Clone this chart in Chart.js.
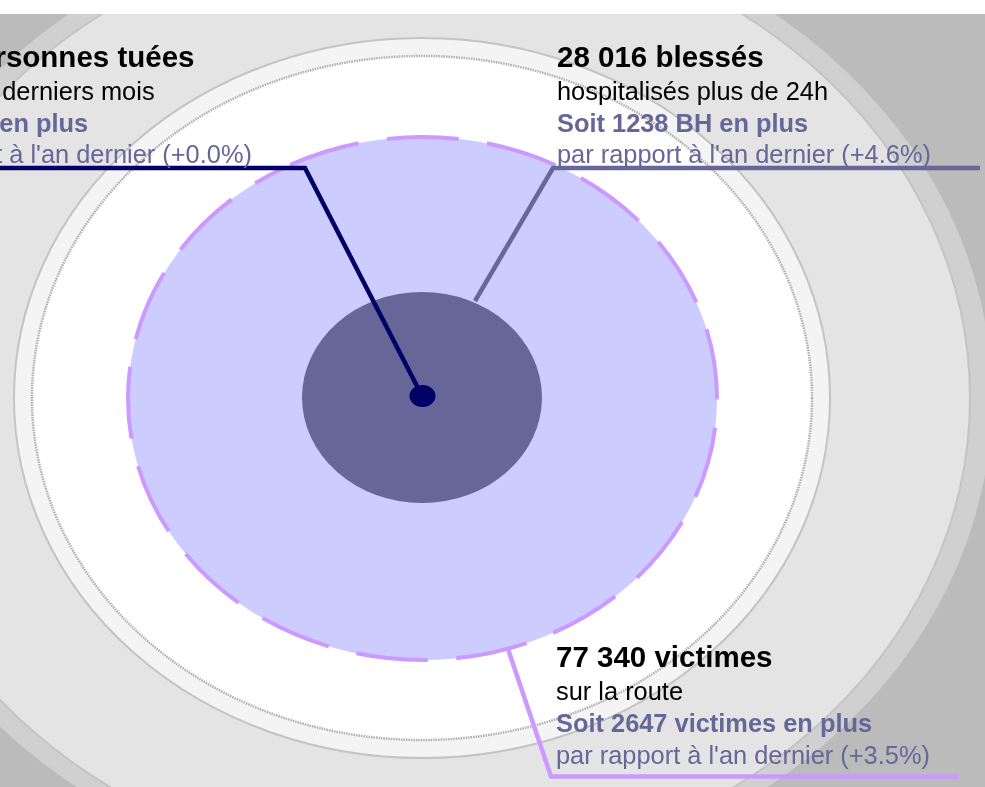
<!DOCTYPE html>
<html>
<head>
<meta charset="utf-8">
<script src="https://cdn.jsdelivr.net/npm/chart.js@4.4.1/dist/chart.umd.min.js"></script>
<style>
html,body{margin:0;padding:0;background:#fff;overflow:hidden}
#wrap{width:985px;height:787px;position:relative}
</style>
</head>
<body>
<div id="wrap"><canvas id="c" width="985" height="787"></canvas></div>
<script>
// ---- data ----
const categories = ['victimes', 'blessés', 'tués'];
const totals = [77340, 28016, 3268];
const titleSuffix = ['victimes', 'blessés', 'personnes tuées'];
const subtitles = ['sur la route', 'hospitalisés plus de 24h', 'sur ces 12 derniers mois'];
const increases = [2647, 1238, 0];
const increaseUnits = ['victimes', 'BH', 'tué'];
const pctChange = [3.5, 4.6, 0.0];

// ---- layout (positions / sizes / styles) ----
const W = 985, H = 787;
const CX = 422, CY = 398;
const bgRings = [
  {rx: 570, ry: 489, fill: '#d0d0d0', stroke: null},
  {rx: 548, ry: 473, fill: '#e4e4e4', stroke: '#c4c4c4', lw: 2},
  {rx: 408, ry: 360, fill: '#f4f4f4', stroke: '#c4c4c4', lw: 2},
  {rx: 390, ry: 342, fill: '#ffffff', stroke: '#b0b0b0', lw: 2.5, dash: [1.5, 1]}
];
// one mark per category: victimes, blessés, tués
const markShapes = [
  {cx: 422.5, cy: 398.5, rx: 294.5, ry: 261.5, fill: '#ccccff', stroke: '#cc99ff', lw: 4,
   dash: [72, 28.5], seam: 4.219, offCw: 71, offCcw: 1.5},
  {cx: 422, cy: 397.5, rx: 120, ry: 105.5, fill: '#666699'},
  {cx: 422.5, cy: 396, rx: 13, ry: 11, fill: '#000066'}
];
const leaders = [
  {color: '#cc99ff', pts: [[508, 649], [551, 776.5], [959, 776.5]]},
  {color: '#666699', pts: [[475, 301], [553, 168], [980, 168]]},
  {color: '#000066', pts: [[420, 392], [305, 168], [0, 168]]}
];
const textBlocks = [
  {x: 556, y: 667},
  {x: 557, y: 66.5},
  {x: -122, y: 66.5}
];
const lineOffsets = [0, 33, 65, 96.5];
const FONT = '"Liberation Sans", Arial, Helvetica, sans-serif';
const TITLE_FONT = 'bold 29.5px ' + FONT;
const BODY_FONT = '25.4px ' + FONT;
const BODY_BOLD = 'bold 25.4px ' + FONT;

function fmt(n) {
  return String(n).replace(/\B(?=(\d{3})+(?!\d))/g, ' ');
}

const diagramPlugin = {
  id: 'diagram',
  beforeDatasetsDraw(chart) {
    const ctx = chart.ctx;
    const xs = chart.scales.x, ys = chart.scales.y;
    const px = v => xs.getPixelForValue(v);
    const py = v => ys.getPixelForValue(v);
    const ellPath = (cx, cy, rx, ry, a0, a1, ccw) => {
      ctx.beginPath();
      ctx.ellipse(px(cx), py(cy), Math.abs(px(cx + rx) - px(cx)), Math.abs(py(cy + ry) - py(cy)), 0, a0, a1, ccw);
    };
    const ell = (cx, cy, rx, ry) => ellPath(cx, cy, rx, ry, 0, Math.PI * 2, false);
    ctx.save();
    // background
    ctx.fillStyle = '#ffffff';
    ctx.fillRect(0, 0, W, H);
    ctx.beginPath();
    ctx.rect(px(0), py(14), px(W) - px(0), py(H) - py(14));
    ctx.fillStyle = '#bbbbbb';
    ctx.fill();
    ctx.clip();
    bgRings.forEach(r => {
      ell(CX, CY, r.rx, r.ry);
      ctx.fillStyle = r.fill;
      ctx.fill();
      if (r.stroke) {
        ctx.setLineDash(r.dash || []);
        ctx.lineWidth = r.lw;
        ctx.strokeStyle = r.stroke;
        ctx.stroke();
        ctx.setLineDash([]);
      }
    });
    // category marks (victimes, blessés)
    chart.data.datasets[0].data.forEach((d, i) => {
      if (i === 2) return;
      const s = markShapes[i];
      ell(d.x, d.y, s.rx, s.ry);
      ctx.fillStyle = s.fill;
      ctx.fill();
      if (s.stroke) {
        ctx.lineWidth = s.lw;
        ctx.strokeStyle = s.stroke;
        ctx.lineCap = 'butt';
        ctx.setLineDash(s.dash);
        ctx.lineDashOffset = s.offCw;
        ellPath(d.x, d.y, s.rx, s.ry, 0, s.seam, false);
        ctx.stroke();
        ctx.lineDashOffset = s.offCcw;
        ellPath(d.x, d.y, s.rx, s.ry, 0, s.seam, true);
        ctx.stroke();
        ctx.setLineDash([]);
        ctx.lineDashOffset = 0;
      }
    });
    // leader lines
    leaders.forEach(l => {
      ctx.beginPath();
      l.pts.forEach((p, k) => k ? ctx.lineTo(px(p[0]), py(p[1])) : ctx.moveTo(px(p[0]), py(p[1])));
      ctx.lineWidth = 4.5;
      ctx.lineJoin = 'miter';
      ctx.lineCap = 'butt';
      ctx.strokeStyle = l.color;
      ctx.stroke();
    });
    // central dot (tués)
    const d2 = chart.data.datasets[0].data[2];
    const s2 = markShapes[2];
    ell(d2.x, d2.y, s2.rx, s2.ry);
    ctx.fillStyle = s2.fill;
    ctx.fill();
    // text
    ctx.textBaseline = 'alphabetic';
    ctx.textAlign = 'left';
    categories.forEach((c, i) => {
      const b = textBlocks[i];
      const lines = [
        {t: fmt(totals[i]) + ' ' + titleSuffix[i], f: TITLE_FONT, c: '#000000'},
        {t: subtitles[i], f: BODY_FONT, c: '#000000'},
        {t: 'Soit ' + increases[i] + ' ' + increaseUnits[i] + ' en plus', f: BODY_BOLD, c: '#666699'},
        {t: "par rapport à l'an dernier (+" + pctChange[i].toFixed(1) + '%)', f: BODY_FONT, c: '#666699'}
      ];
      lines.forEach((ln, k) => {
        ctx.font = ln.f;
        ctx.fillStyle = ln.c;
        ctx.fillText(ln.t, px(b.x), py(b.y + lineOffsets[k]));
      });
    });
    ctx.restore();
  }
};

new Chart(document.getElementById('c'), {
  type: 'scatter',
  data: {
    labels: categories,
    datasets: [{
      data: markShapes.map(s => ({x: s.cx, y: s.cy})),
      pointRadius: 0,
      pointHoverRadius: 0
    }]
  },
  options: {
    responsive: false,
    animation: false,
    events: [],
    layout: {padding: 0},
    plugins: {legend: {display: false}, tooltip: {enabled: false}},
    scales: {
      x: {type: 'linear', min: 0, max: W, display: false},
      y: {type: 'linear', min: 0, max: H, reverse: true, display: false}
    }
  },
  plugins: [diagramPlugin]
});
</script>
</body>
</html>
